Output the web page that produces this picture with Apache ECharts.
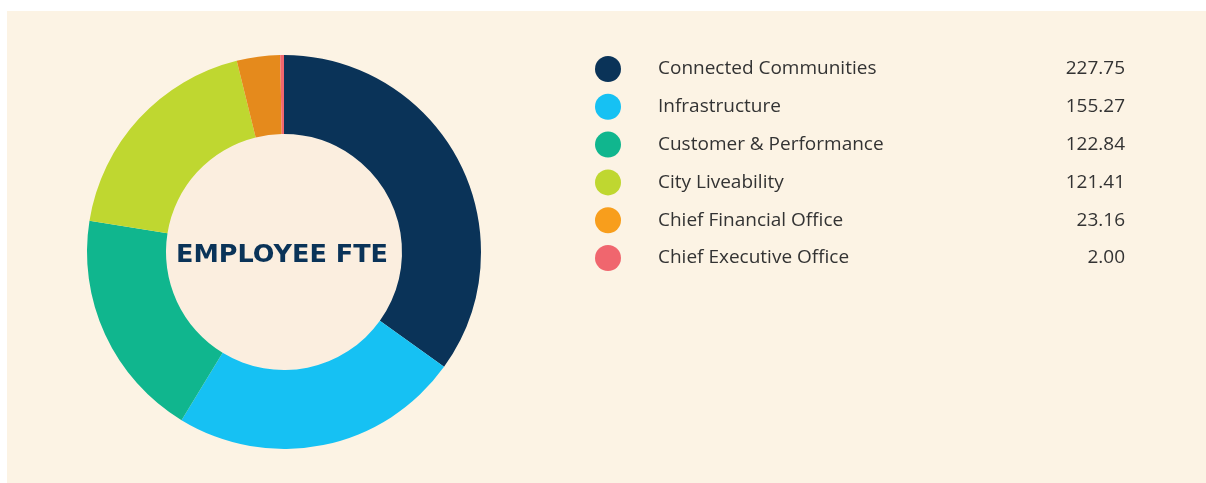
<!DOCTYPE html>
<html><head><meta charset="utf-8">
<script src="https://cdn.jsdelivr.net/npm/echarts@6/dist/echarts.min.js"></script>
<style>
html,body{margin:0;padding:0;background:#ffffff;}
#panel{position:absolute;left:7px;top:11px;width:1199px;height:472px;background:#FCF3E4;}
#c{position:absolute;left:0;top:0;width:1206px;height:483px;}
</style></head>
<body><div id="panel"></div><div id="c"></div>
<script>
const categories = ["Connected Communities","Infrastructure","Customer & Performance","City Liveability","Chief Financial Office","Chief Executive Office"];
const values = [227.75,155.27,122.84,121.41,23.16,2.00];
const sliceColors = ["#0A3358","#16C1F3","#10B68E","#BFD730","#E58A1C","#F0666E"];
const legendColors = ["#0A3358","#16C1F3","#10B68E","#BFD730","#F89E1C","#F0666E"];
const centerTitle = "EMPLOYEE FTE";

const chart = echarts.init(document.getElementById('c'));
const font = "Open Sans";
chart.setOption({
  animation:false,
  backgroundColor:'transparent',
  title:{text:centerTitle,left:282,top:255,textAlign:'center',textVerticalAlign:'middle',padding:0,
    textStyle:{fontFamily:"DejaVu Sans",fontWeight:'bold',fontSize:25.5,color:'#0A3358'}},
  graphic:[{type:'circle',shape:{cx:284,cy:252,r:118},style:{fill:'#FBEEDF'},z:-1}],
  legend:{orient:'vertical',left:595,top:56,padding:0,itemWidth:26,itemHeight:26,itemGap:11.8,icon:'circle',
    selectedMode:false,
    data:categories.map((n,i)=>({name:n,itemStyle:{color:legendColors[i]}})),
    formatter:function(name){const i=categories.indexOf(name);return '{s|}{n|'+name+'}{v|'+values[i].toFixed(2)+'}';},
    textStyle:{rich:{
      s:{width:32},
      n:{width:300,fontFamily:font,fontSize:19,color:'#333333',lineHeight:26},
      v:{width:167,align:'right',fontFamily:font,fontSize:19,color:'#333333',lineHeight:26}
    }}},
  series:[{type:'pie',center:[284,252],radius:[118,197],startAngle:90,clockwise:true,
    label:{show:false},labelLine:{show:false},silent:true,
    itemStyle:{borderWidth:0},
    data:categories.map((n,i)=>({name:n,value:values[i],itemStyle:{color:sliceColors[i]}}))}]
});
</script></body></html>
